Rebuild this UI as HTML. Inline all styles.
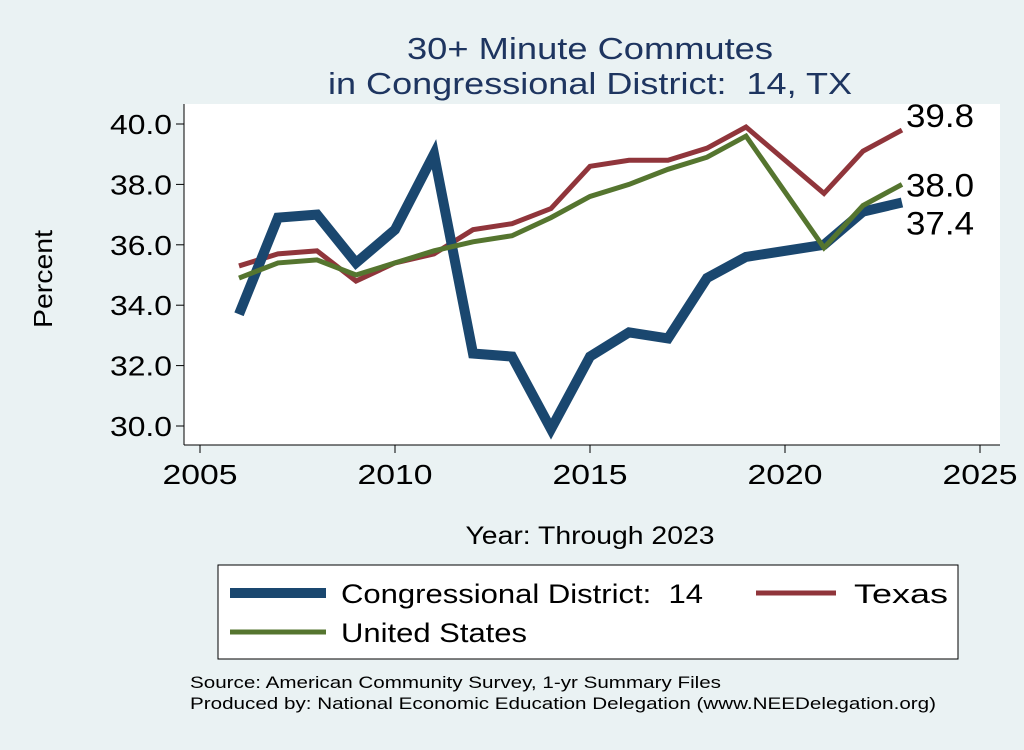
<!DOCTYPE html>
<html><head><meta charset="utf-8"><style>
body{margin:0;background:#eaf2f3;font-family:"Liberation Sans",sans-serif;}
svg text{font-family:"Liberation Sans",sans-serif;white-space:pre;}
</style></head><body>
<svg width="1024" height="745" viewBox="0 0 1024 745">
<rect x="0" y="0" width="1024" height="745" fill="#eaf2f3"/>
<rect x="184" y="104" width="816" height="341" fill="#fff"/>
<text x="590" y="59" font-size="31" textLength="366" lengthAdjust="spacingAndGlyphs" fill="#1e3560" text-anchor="middle">30+ Minute Commutes</text>
<text x="590" y="94" font-size="31" textLength="524" lengthAdjust="spacingAndGlyphs" fill="#1e3560" text-anchor="middle">in Congressional District:  14, TX</text>
<g id="axes"></g>
<g id="series"></g>
<text x="52" y="279" font-size="26" textLength="98" lengthAdjust="spacingAndGlyphs" text-anchor="middle" transform="rotate(-90 52 279)">Percent</text>
<text x="590" y="544" font-size="25" textLength="249" lengthAdjust="spacingAndGlyphs" text-anchor="middle">Year: Through 2023</text>
<g>
<rect x="218" y="565" width="740" height="94" fill="#fff" stroke="#000" stroke-width="1"/>
<line x1="230" y1="593" x2="326" y2="593" stroke="#1a476f" stroke-width="10"/>
<text x="341" y="603" font-size="27" textLength="362" lengthAdjust="spacingAndGlyphs">Congressional District:  14</text>
<line x1="756" y1="593" x2="836" y2="593" stroke="#90353b" stroke-width="5"/>
<text x="854" y="603" font-size="27" textLength="94" lengthAdjust="spacingAndGlyphs">Texas</text>
<line x1="230" y1="632" x2="326" y2="632" stroke="#55752f" stroke-width="5"/>
<text x="341" y="642" font-size="27" textLength="186" lengthAdjust="spacingAndGlyphs">United States</text>
</g>
<text x="190" y="688" font-size="17" textLength="531" lengthAdjust="spacingAndGlyphs">Source: American Community Survey, 1-yr Summary Files</text>
<text x="190" y="709" font-size="17" textLength="746" lengthAdjust="spacingAndGlyphs">Produced by: National Economic Education Delegation (www.NEEDelegation.org)</text>
</svg>
<script>
const years=[2006,2007,2008,2009,2010,2011,2012,2013,2014,2015,2016,2017,2018,2019,2021,2022,2023];
const cd14=[33.7,36.9,37.0,35.4,36.5,39.0,32.4,32.3,29.9,32.3,33.1,32.9,34.9,35.6,36.0,37.1,37.4];
const texas=[35.3,35.7,35.8,34.8,35.4,35.7,36.5,36.7,37.2,38.6,38.8,38.8,39.2,39.9,37.7,39.1,39.8];
const us=[34.9,35.4,35.5,35.0,35.4,35.8,36.1,36.3,36.9,37.6,38.0,38.5,38.9,39.6,35.9,37.3,38.0];
const xTicks=[2005,2010,2015,2020,2025];
const yTicks=[30,32,34,36,38,40];
const NS='http://www.w3.org/2000/svg';
const X=y=>200+(y-2005)*39;
const Y=v=>426-(v-30)*30.2;
function mk(t,a,p){const e=document.createElementNS(NS,t);for(const k in a)e.setAttribute(k,a[k]);p.appendChild(e);return e;}
const ax=document.getElementById('axes');
let l=mk('line',{x1:184,y1:104,x2:184,y2:445,stroke:'#000'},ax);


l=mk('line',{x1:184,y1:445,x2:1000,y2:445,stroke:'#000'},ax);


yTicks.forEach(v=>{
 mk('line',{x1:176,y1:Y(v),x2:184,y2:Y(v),stroke:'#000'},ax);
 const t=mk('text',{x:172,y:Y(v)+10,'font-size':28,'text-anchor':'end',textLength:62,lengthAdjust:'spacingAndGlyphs'},ax);t.textContent=v.toFixed(1);
 
 
});
xTicks.forEach(v=>{
 mk('line',{x1:X(v),y1:445,x2:X(v),y2:453,stroke:'#000'},ax);
 const t=mk('text',{x:X(v),y:484,'font-size':28,'text-anchor':'middle',textLength:75,lengthAdjust:'spacingAndGlyphs'},ax);t.textContent=v;
 
 
});
const sg=document.getElementById('series');
function line(vals,col,w,name){
 const p=mk('polyline',{points:years.map((y,i)=>X(y)+','+Y(vals[i])).join(' '),fill:'none',stroke:col,'stroke-width':w,'stroke-linejoin':'miter'},sg);
 
 
}
line(texas,'#90353b',5,'texas-line');
line(cd14,'#1a476f',10,'cd14-line');
line(us,'#55752f',5,'us-line');
const last=years.length-1,lx=X(years[last])+4;
[[texas,-3,'texas-end-label'],[us,12,'us-end-label'],[cd14,32,'cd14-end-label']].forEach(([s,dy,n])=>{
 const t=mk('text',{x:lx,y:Y(s[last])+dy,'font-size':32,textLength:68,lengthAdjust:'spacingAndGlyphs'},sg);t.textContent=s[last].toFixed(1);
 
 
});
</script>
</body></html>
